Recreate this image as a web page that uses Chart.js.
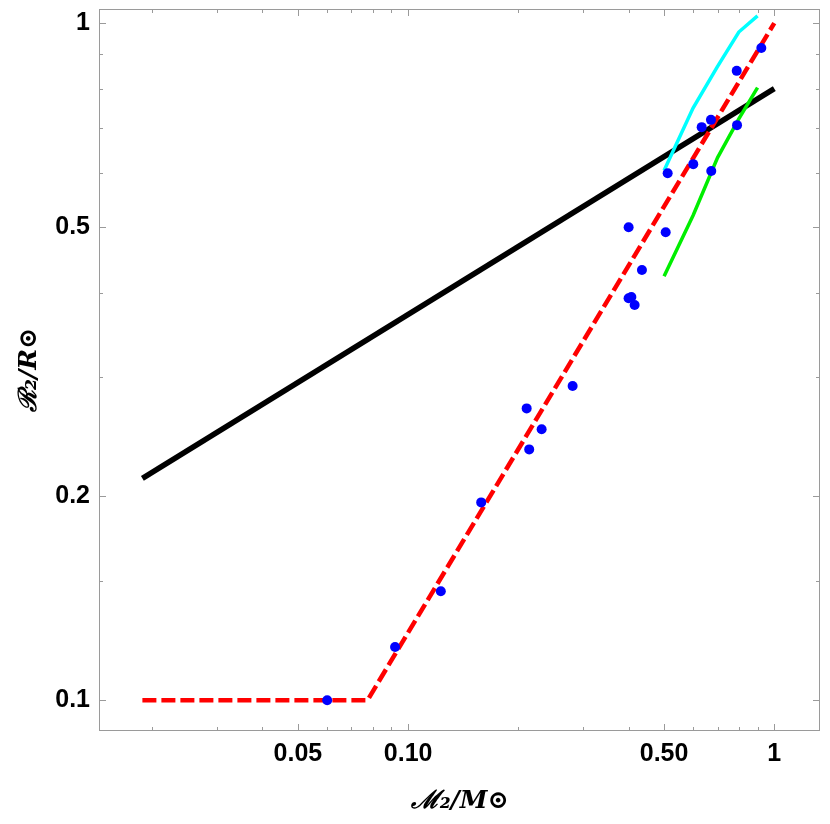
<!DOCTYPE html>
<html lang="en">
<head>
    <meta charset="UTF-8">
    <title>Mass-radius relation</title>
    <style>
        body {
            margin: 0;
            background-color: white;
        }
        #wrap {
            width: 830px;
            height: 824px;
        }
    </style>
</head>
<body>
    <div id="wrap">
        <canvas id="grafica" width="830" height="824"></canvas>
    </div>

    <script src="https://cdn.jsdelivr.net/npm/chart.js"></script>
    <script>
        // Observed stars (blue dots)
        const starMass   = [0.0601, 0.0921, 0.1228, 0.1583, 0.2107, 0.2141, 0.2315, 0.2813, 0.4001, 0.400, 0.407, 0.4155, 0.4350, 0.5051, 0.5114, 0.6007, 0.6334, 0.6714, 0.6728, 0.7911, 0.7896, 0.9215];
        const starRadius = [0.100, 0.1199, 0.1449, 0.1960, 0.2698, 0.2347, 0.2514, 0.2911, 0.4994, 0.3924, 0.394, 0.3835, 0.4319, 0.4910, 0.600, 0.619, 0.702, 0.7196, 0.6048, 0.7068, 0.850, 0.9185];

        // Red dashed fit
        const redMass   = [0.0188, 0.0774, 1.0];
        const redRadius = [0.1, 0.1, 1.0];

        // Black line
        const blackMass   = [0.0188, 1.0];
        const blackRadius = [0.2127, 0.8];

        // Cyan and green model tracks
        const cyanMass    = [0.5, 0.6, 0.7, 0.8, 0.9];
        const cyanRadius  = [0.606, 0.749, 0.863, 0.970, 1.025];
        const greenMass   = [0.5, 0.6, 0.7, 0.8, 0.9];
        const greenRadius = [0.423, 0.520, 0.633, 0.722, 0.803];

        // Tick labels
        const xTicks = [0.05, 0.1, 0.5, 1];
        const xTickLabels = ['0.05', '0.10', '0.50', '1'];
        const yTicks = [0.1, 0.2, 0.5, 1];
        const yTickLabels = ['0.1', '0.2', '0.5', '1'];
        const xMinorTicks = [0.02, 0.03, 0.04, 0.06, 0.07, 0.08, 0.09, 0.2, 0.3, 0.4, 0.6, 0.7, 0.8, 0.9];
        const yMinorTicks = [0.15, 0.3, 0.4, 0.6, 0.7, 0.8, 0.9];

        function puntos(xs, ys) {
            return xs.map((x, i) => ({ x: x, y: ys[i] }));
        }

        // frame + inward ticks on all four sides
        const marcoPlugin = {
            id: 'marco',
            afterDraw(chart) {
                const ctx = chart.ctx;
                const a = chart.chartArea;
                const sx = chart.scales.x;
                const sy = chart.scales.y;
                ctx.save();
                ctx.strokeStyle = '#9a9a9a';
                ctx.lineWidth = 1;
                ctx.strokeRect(a.left + 0.5, a.top + 0.5, a.right - a.left - 1, a.bottom - a.top - 1);
                ctx.beginPath();
                const marcas = (vals, len) => {
                    vals.forEach(v => {
                        const px = Math.round(sx.getPixelForValue(v)) + 0.5;
                        ctx.moveTo(px, a.bottom); ctx.lineTo(px, a.bottom - len);
                        ctx.moveTo(px, a.top); ctx.lineTo(px, a.top + len);
                    });
                };
                const marcasY = (vals, len) => {
                    vals.forEach(v => {
                        const py = Math.round(sy.getPixelForValue(v)) + 0.5;
                        ctx.moveTo(a.left, py); ctx.lineTo(a.left + len, py);
                        ctx.moveTo(a.right, py); ctx.lineTo(a.right - len, py);
                    });
                };
                marcas(xTicks, 7);
                marcas(xMinorTicks, 4);
                marcasY(yTicks, 7);
                marcasY(yMinorTicks, 4);
                ctx.stroke();
                ctx.restore();
            }
        };

        const ctx = document.getElementById('grafica').getContext('2d');
        const chart = new Chart(ctx, {
            type: 'scatter',
            data: {
                datasets: [
                    {
                        label: 'stars',
                        data: puntos(starMass, starRadius),
                        backgroundColor: '#0000ff',
                        borderColor: '#0000ff',
                        pointRadius: 5,
                        pointBorderWidth: 0
                    },
                    {
                        label: 'fit',
                        data: puntos(redMass, redRadius),
                        showLine: true,
                        borderColor: '#ff0000',
                        borderWidth: 4.5,
                        borderDash: [14, 5],
                        pointRadius: 0
                    },
                    {
                        label: 'green',
                        data: puntos(greenMass, greenRadius),
                        showLine: true,
                        borderColor: '#00ee00',
                        borderWidth: 3.5,
                        pointRadius: 0
                    },
                    {
                        label: 'cyan',
                        data: puntos(cyanMass, cyanRadius),
                        showLine: true,
                        borderColor: '#00ffff',
                        borderWidth: 3.5,
                        pointRadius: 0
                    },
                    {
                        label: 'black',
                        data: puntos(blackMass, blackRadius),
                        showLine: true,
                        borderColor: '#000000',
                        borderWidth: 5.5,
                        pointRadius: 0
                    }
                ]
            },
            options: {
                responsive: false,
                animation: false,
                layout: { padding: { top: 9, right: 10, left: 0, bottom: 0 } },
                plugins: {
                    legend: { display: false },
                    tooltip: { enabled: false }
                },
                scales: {
                    x: {
                        type: 'logarithmic',
                        min: 0.01431,
                        max: 1.333,
                        grid: { display: false, drawTicks: false },
                        border: { display: false },
                        afterBuildTicks: (scale) => { scale.ticks = xTicks.map(v => ({ value: v })); },
                        afterFit: (scale) => {
                            scale.height = 93;
                            scale.paddingLeft = 0;
                            scale.paddingRight = 0;
                        },
                        ticks: {
                            color: '#000',
                            padding: 8,
                            maxRotation: 0,
                            autoSkip: false,
                            font: { family: 'Liberation Sans, Arial', size: 25, weight: 'bold' },
                            callback: (v) => xTickLabels[xTicks.indexOf(v)]
                        },
                        title: {
                            display: true,
                            text: 'ℳ₂/M⊙',
                            color: '#000',
                            padding: { top: 0, bottom: 8 },
                            font: { family: 'DejaVu Serif', size: 25, style: 'italic', weight: 'bold' }
                        }
                    },
                    y: {
                        type: 'logarithmic',
                        min: 0.0901,
                        max: 1.049,
                        grid: { display: false, drawTicks: false },
                        border: { display: false },
                        afterBuildTicks: (scale) => { scale.ticks = yTicks.map(v => ({ value: v })); },
                        afterFit: (scale) => {
                            scale.width = 99;
                            scale.paddingTop = 0;
                            scale.paddingBottom = 0;
                        },
                        ticks: {
                            color: '#000',
                            padding: 9,
                            autoSkip: false,
                            font: { family: 'Liberation Sans, Arial', size: 25, weight: 'bold' },
                            callback: (v) => yTickLabels[yTicks.indexOf(v)]
                        },
                        title: {
                            display: true,
                            text: 'ℛ₂/R⊙',
                            color: '#000',
                            padding: { top: 14, bottom: 0 },
                            font: { family: 'DejaVu Serif', size: 25, style: 'italic', weight: 'bold' }
                        }
                    }
                }
            },
            plugins: [marcoPlugin]
        });
    </script>
</body>
</html>
